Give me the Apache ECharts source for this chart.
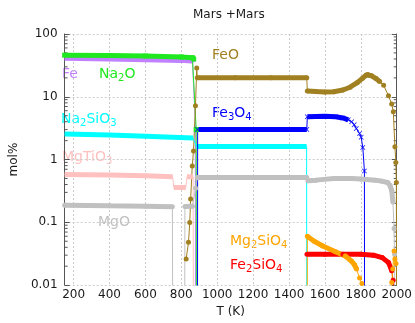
<!DOCTYPE html>
<html lang="en">
<head>
    <meta charset="UTF-8">
    <title>Mars +Mars</title>
    <script src="https://cdn.jsdelivr.net/npm/echarts@6/dist/echarts.min.js"></script>
    <style>html, body { margin: 0; padding: 0; background: #fff; }</style>
</head>
<body>
<div id="chart" style="width: 415px;height: 323px"></div>
<script type="text/javascript">
    // temperature axis (K)
    var xMin = 150, xMax = 2000;
    var xTicks = [200, 400, 600, 800, 1000, 1200, 1400, 1600, 1800, 2000];
    // mol% axis, decades only
    var yTicks = [0.01, 0.1, 1, 10, 100];

    // value under the 0.01 floor: the line runs out of the frame there
    var OFF = 1e-4;

    // mol%, [T, mol%]
    var fe = [[150, 41], [400, 40], [600, 39], [800, 38], [862, 37], [866, 35], [878, 4], [880, OFF]];
    var na2o = [[150, 46], [400, 45.5], [600, 44.5], [800, 43], [862, 42], [869, 40], [883, 3.0], [885, OFF]];
    var feo = [[827, 0.026], [840, 0.048], [847, 0.099], [852, 0.235], [861, 0.79], [868, 1.37], [879, 7.2], [886, 28.8],
        [889, 20.1], [1100, 20.1], [1300, 20.1], [1499, 20.1], [1502, 12.4], [1550, 12.1], [1600, 11.9], [1650, 12.0],
        [1700, 12.8], [1740, 14.2], [1780, 16.8], [1810, 19.8], [1830, 22.2], [1840, 22.6], [1860, 21.6], [1885, 19.5],
        [1905, 17.5], [1927, 15.2], [1954, 10.4], [1972, 7.7], [1981, 5.8], [1990, 1.6], [1995, 0.9], [1998, 0.43], [2000, OFF]];
    var na2sio3 = [[150, 2.55], [400, 2.45], [600, 2.35], [866, 2.2], [884, 1.62], [1100, 1.62], [1300, 1.62], [1498, 1.62], [1499, OFF]];
    var fe3o4 = [[890, OFF], [891, 3.0], [1100, 3.0], [1300, 3.0], [1499, 3.0], [1502, 4.8], [1600, 4.9], [1660, 4.8],
        [1700, 4.6], [1730, 4.3], [1749, 4.0], [1763, 3.6], [1775, 3.13], [1793, 2.6], [1802, 2.26], [1811, 1.56],
        [1820, 0.66], [1821, OFF]];
    var mgtio3 = [[150, 0.58], [400, 0.565], [600, 0.55], [752, 0.53], [758, 0.36], [825, 0.36], [832, 0.53], [866, 0.53], [868, OFF]];
    var mgo = [[150, 0.187], [400, 0.183], [600, 0.18], [750, 0.177], [754, OFF], [818, OFF], [820, 0.178], [862, 0.18],
        [880, 0.35], [889, 0.52], [1100, 0.52], [1300, 0.52], [1499, 0.52], [1505, 0.46], [1550, 0.47], [1650, 0.5],
        [1750, 0.5], [1800, 0.49], [1880, 0.47], [1920, 0.45], [1950, 0.43], [1962, 0.39], [1972, 0.32], [1979, 0.21],
        [1985, 0.08], [1988, 0.031], [1990, OFF]];
    var fe2sio4 = [[1500, 0.031], [1600, 0.031], [1700, 0.031], [1800, 0.031], [1870, 0.03], [1919, 0.0274],
        [1954, 0.023], [1972, 0.017], [1980, 0.012], [1983, 0.0098], [1985, OFF]];
    var mg2sio4 = [[1501, OFF], [1502, 0.06], [1540, 0.05], [1588, 0.042], [1659, 0.034], [1713, 0.029], [1749, 0.024],
        [1765, 0.021], [1776, 0.018], [1793, 0.013], [1806, 0.0106], [1810, OFF], [1968, OFF], [1972, 0.011],
        [1978, 0.018], [1985, 0.035], [1990, 0.026], [1996, 0.022]];

    var xMark = 'path://M0,1L1,0L5,4L9,0L10,1L6,5L10,9L9,10L5,6L1,10L0,9L4,5Z';

    // bands = T ranges where the points are dense enough to read as a thick stroke
    var species = [
        {label: '{a|Fe}', pts: fe, color: '#c080ff', bands: [[150, 866]], symbol: 'none', lx: 62, ly: 74},
        {label: '{a|Na}{s|2}{a|O}', pts: na2o, color: '#20e820', bands: [[150, 869]], symbol: 'rect', lx: 99, ly: 74},
        {label: '{a|FeO}', pts: feo, color: '#a08020', bands: [[889, 1499], [1502, 1905]], symbol: 'circle', lx: 212, ly: 55},
        {label: '{a|Na}{s|2}{a|SiO}{s|3}', pts: na2sio3, color: '#00ffff', bands: [[150, 866], [884, 1498]], symbol: 'none', lx: 61, ly: 119},
        {label: '{a|Fe}{s|3}{a|O}{s|4}', pts: fe3o4, color: '#0000ff', bands: [[891, 1499], [1502, 1730]], symbol: xMark, lx: 212, ly: 113},
        {label: '{a|MgTiO}{s|3}', pts: mgtio3, color: '#ffc0c0', bands: [[150, 752], [758, 825], [832, 866]], symbol: 'none', lx: 62, ly: 157},
        {label: '{a|MgO}', pts: mgo, color: '#c0c0c0', bands: [[150, 750], [820, 862], [889, 1499], [1505, 1979]], symbol: 'circle', lx: 98, ly: 222},
        {label: '{a|Fe}{s|2}{a|SiO}{s|4}', pts: fe2sio4, color: '#ff0000', bands: [[1500, 1972]], symbol: 'circle', lx: 230, ly: 265},
        {label: '{a|Mg}{s|2}{a|SiO}{s|4}', pts: mg2sio4, color: '#ffa500', bands: [[1502, 1776]], symbol: 'circle', lx: 230, ly: 241}
    ];

    // minor log ticks 2..9 of each decade
    var minorVals = [];
    [0.01, 0.1, 1, 10].forEach(function (d) {
        for (var k = 2; k < 10; k++) minorVals.push(+(d * k).toPrecision(3));
    });

    var FONT = 'DejaVu Sans';
    var TEXT = '#1a1a1a';
    var AXIS = '#555';
    var GRID = '#cccccc';

    function bandData(pts, ranges) {
        var out = [];
        ranges.forEach(function (r, i) {
            if (i) out.push([r[0], '-']);
            pts.forEach(function (p) {
                if (p[0] >= r[0] && p[0] <= r[1]) out.push(p);
            });
        });
        return out;
    }

    var series = [];
    species.forEach(function (sp) {
        series.push({
            type: 'line',
            data: sp.pts,
            symbol: sp.symbol,
            symbolSize: 5,
            lineStyle: {color: sp.color, width: 1},
            itemStyle: {color: sp.color},
            silent: true
        });
        series.push({
            type: 'line',
            data: bandData(sp.pts, sp.bands),
            symbol: 'none',
            lineStyle: {color: sp.color, width: 5},
            silent: true
        });
    });

    series.push({
        type: 'custom',
        silent: true,
        data: minorVals.map(function (v) { return [xMin, v]; }),
        renderItem: function (params, api) {
            var v = api.value(1);
            var l = api.coord([xMin, v]), r = api.coord([xMax, v]);
            return {
                type: 'group',
                children: [
                    {type: 'line', shape: {x1: l[0], y1: l[1], x2: l[0] + 3, y2: l[1]}, style: {stroke: AXIS, lineWidth: 1}},
                    {type: 'line', shape: {x1: r[0], y1: r[1], x2: r[0] - 3, y2: r[1]}, style: {stroke: AXIS, lineWidth: 1}}
                ]
            };
        }
    });

    var labels = species.map(function (sp) {
        return {
            type: 'text',
            x: sp.lx,
            y: sp.ly,
            silent: true,
            style: {
                text: sp.label,
                fill: sp.color,
                verticalAlign: 'middle',
                rich: {
                    a: {fontSize: 14, fontFamily: FONT, lineHeight: 18, fill: sp.color},
                    s: {fontSize: 10, fontFamily: FONT, lineHeight: 10, padding: [9, 0, 0, 0], fill: sp.color}
                }
            }
        };
    });

    var yAxisBase = {
        type: 'log',
        logBase: 10,
        min: 0.01,
        max: 100,
        axisLine: {show: true, lineStyle: {color: AXIS}},
        axisTick: {show: true, inside: true, length: 5, customValues: yTicks, lineStyle: {color: AXIS}}
    };

    var chart = echarts.init(document.getElementById('chart'));
    chart.setOption({
        animation: false,
        backgroundColor: '#fff',
        title: {
            text: 'Mars +Mars',
            left: 188,
            top: 4,
            textStyle: {fontSize: 12, fontWeight: 'normal', color: TEXT, fontFamily: FONT}
        },
        grid: {left: 52, right: 18, top: 34, bottom: 34},
        xAxis: {
            type: 'value',
            min: xMin,
            max: xMax,
            name: 'T (K)',
            nameLocation: 'middle',
            nameGap: 17,
            nameTextStyle: {fontSize: 12, color: TEXT, fontFamily: FONT},
            axisLine: {show: false},
            axisTick: {show: false, customValues: xTicks},
            axisLabel: {
                customValues: xTicks, margin: 4, fontSize: 12, color: TEXT, fontFamily: FONT,
                formatter: function (v) { return String(v); }
            },
            splitLine: {show: true, lineStyle: {color: GRID, type: [2, 2]}}
        },
        yAxis: [
            Object.assign({}, yAxisBase, {
                position: 'left',
                name: 'mol%',
                nameLocation: 'middle',
                nameGap: 38,
                nameTextStyle: {fontSize: 12, color: TEXT, fontFamily: FONT},
                axisLabel: {
                    customValues: yTicks, fontSize: 12, color: TEXT, fontFamily: FONT, margin: 7,
                    formatter: function (v) { return String(v); }
                },
                splitLine: {show: true, lineStyle: {color: GRID, type: [2, 2]}}
            }),
            Object.assign({}, yAxisBase, {
                position: 'right',
                axisLabel: {show: false},
                splitLine: {show: false}
            })
        ],
        graphic: labels,
        series: series
    });
</script>
</body>
</html>
